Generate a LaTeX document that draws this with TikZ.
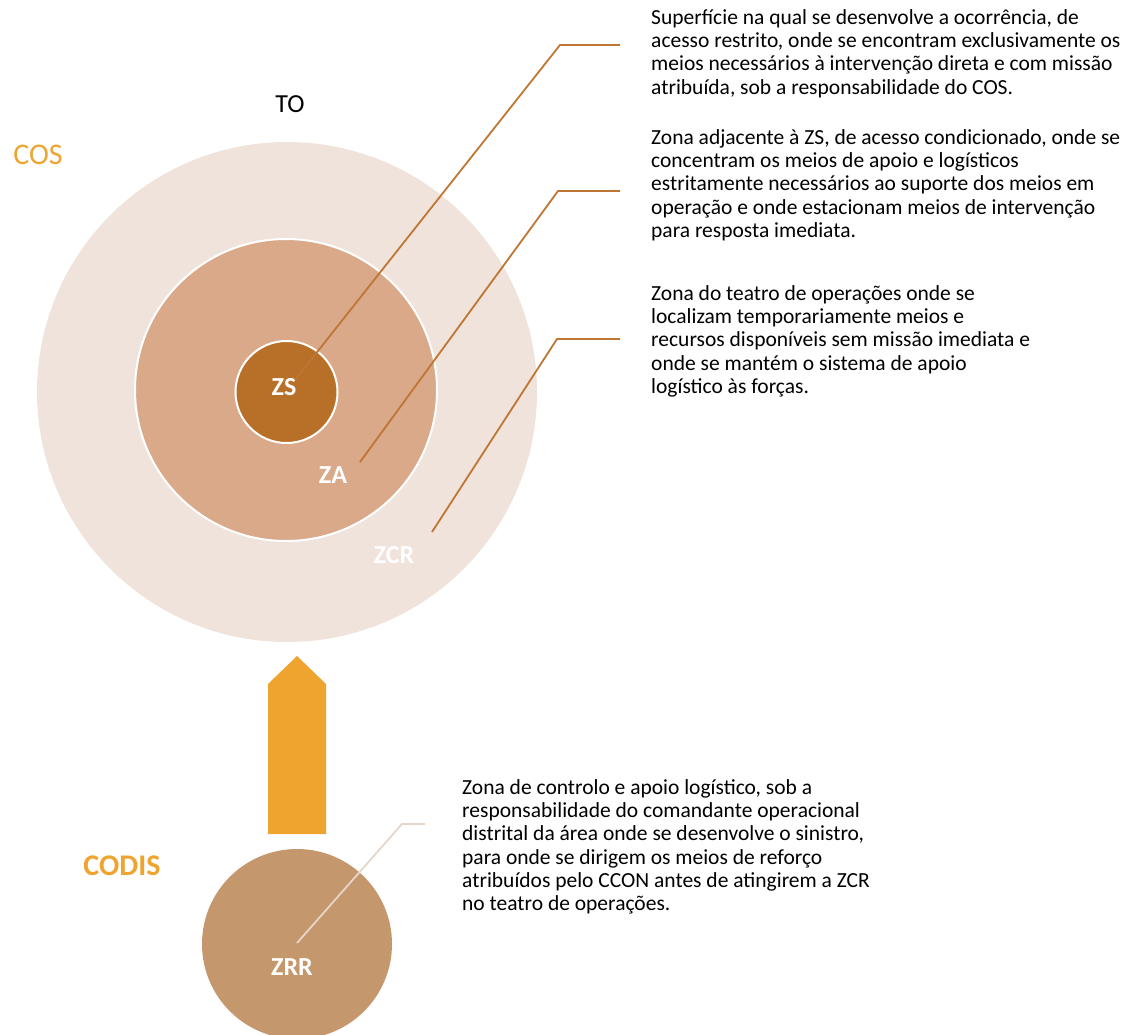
\documentclass[tikz,border=0pt]{standalone}
\usepackage{fontspec}
\setmainfont{Carlito}
\usetikzlibrary{positioning}

\definecolor{zcrfill}{HTML}{F0E3DC}
\definecolor{zafill}{HTML}{D9A98A}
\definecolor{zsfill}{HTML}{B87028}
\definecolor{zrrfill}{HTML}{C4976D}
\definecolor{cosorange}{HTML}{EFA430}
\definecolor{leadcol}{HTML}{BF7632}
\definecolor{zrrlead}{HTML}{E6D6C9}

\tikzset{
    zone/.style = {circle, inner sep = 0pt},
    zonelabel/.style = {text = white, font = \fontsize{26}{30}\selectfont\bfseries},
    zonetext/.style = {anchor = north west, align = left, inner sep = 0pt, font = \fontsize{21.5}{23.3}\selectfont},
    leader/.style = {draw = leadcol, line width = 1.8pt},
}

\begin{document}
\begin{tikzpicture}[x = 1pt, y = -1pt]
        \useasboundingbox (0,0) rectangle (1133,1034) ;

        % zones of the TO
        \node [zone, fill = zcrfill, minimum size = 500pt] (zcr) at (287,392) {} ;
        \node [zone, fill = zafill, draw = white, line width = 2pt, minimum size = 302pt] (za) at (286,390) {} ;
        \node [zone, fill = zsfill, draw = white, line width = 2pt, minimum size = 102pt] (zs) at (286.5,392) {} ;
        \node [zone, fill = zrrfill, minimum size = 190pt] (zrr) at (297,944) {} ;

        \node [zonelabel] (lzs) at (284,387) {ZS} ;
        \node [zonelabel] (lza) at (333,475) {ZA} ;
        \node [zonelabel] (lzcr) at (394,555) {ZCR} ;
        \node [zonelabel] (lzrr) at (292,967) {ZRR} ;

        \node [font = \fontsize{26}{30}\selectfont] (to) at (290,104) {TO} ;
        \node [text = cosorange, font = \fontsize{30}{34}\selectfont] (cos) at (38,155) {COS} ;
        \node [text = cosorange, font = \fontsize{30}{34}\selectfont\bfseries] (codis) at (122,866) {CODIS} ;

        % arrow from ZRR up to the TO
        \fill [cosorange] (268,834) -- (268,684) -- (297,656) -- (326,684) -- (326,834) -- cycle ;

        % descriptions
        \node [zonetext] (tzs) at (651,9) {Superfície na qual se desenvolve a ocorrência, de\\acesso restrito, onde se encontram exclusivamente os\\meios necessários à intervenção direta e com missão\\atribuída, sob a responsabilidade do COS.} ;
        \node [zonetext] (tza) at (651,129) {Zona adjacente à ZS, de acesso condicionado, onde se\\concentram os meios de apoio e logísticos\\estritamente necessários ao suporte dos meios em\\operação e onde estacionam meios de intervenção\\para resposta imediata.} ;
        \node [zonetext] (tzcr) at (651,285) {Zona do teatro de operações onde se\\localizam temporariamente meios e\\recursos disponíveis sem missão imediata e\\onde se mantém o sistema de apoio\\logístico às forças.} ;
        \node [zonetext] (tzrr) at (462,779) {Zona de controlo e apoio logístico, sob a\\responsabilidade do comandante operacional\\distrital da área onde se desenvolve o sinistro,\\para onde se dirigem os meios de reforço\\atribuídos pelo CCON antes de atingirem a ZCR\\no teatro de operações.} ;

        % leaders
        \coordinate (zsend) at (295,380) ;
        \coordinate (zsknee) at (560,45) ;
        \coordinate (zstip) at (620,45) ;
        \coordinate (zaend) at (360,462) ;
        \coordinate (zaknee) at (558,191) ;
        \coordinate (zatip) at (620,191) ;
        \coordinate (zcrend) at (432,532) ;
        \coordinate (zcrknee) at (557,339) ;
        \coordinate (zcrtip) at (620,339) ;
        \coordinate (zrrend) at (297,943) ;
        \coordinate (zrrknee) at (402,824) ;
        \coordinate (zrrtip) at (425,824) ;
        \draw [leader] (zsend) -- (zsknee) -- (zstip) ;
        \draw [leader] (zaend) -- (zaknee) -- (zatip) ;
        \draw [leader] (zcrend) -- (zcrknee) -- (zcrtip) ;
        \draw [leader, draw = zrrlead] (zrrend) -- (zrrknee) -- (zrrtip) ;
    \end{tikzpicture}
\end{document}
